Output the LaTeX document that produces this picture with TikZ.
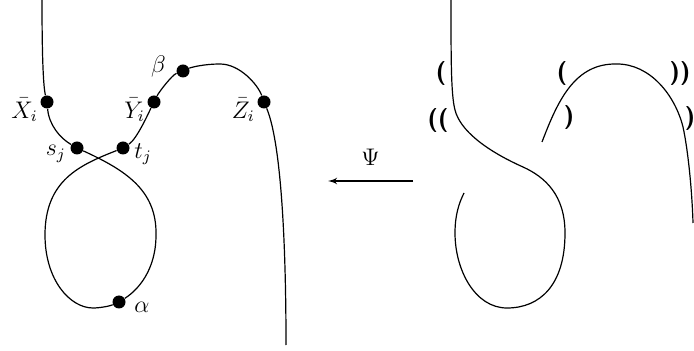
\documentclass[tikz,border=0pt]{standalone}
\usepackage{amsmath}
\usepackage{amssymb}
\usetikzlibrary{arrows,positioning}

\begin{document}
\begin{tikzpicture}[
    x=0.5pt, y=-0.5pt,
    >=latex',
    font=\large,
    dot/.style={
		circle,
		fill=black,
		inner sep=0pt,
		minimum size=6.5pt
	},
	lbl/.style={
		inner sep=0pt
	},
	paren/.style={
		inner sep=0pt,
		font=\large\sffamily\bfseries
	},
	strand/.style={
		semithick
	}
  ]
  \useasboundingbox (0,0) rectangle (694,351);

    % We start by placing the marked points
  \coordinate (ltop) at (42,0);
  \coordinate (lbot) at (286,345);
  \node [dot] (Xbar) at (47,102) {};
  \node [dot] (sj) at (77,148) {};
  \node [dot] (tj) at (123,148) {};
  \node [dot] (Ybar) at (154,102) {};
  \node [dot] (beta) at (183,71) {};
  \node [dot] (Zbar) at (264,102) {};
  \node [dot] (alpha) at (119,302) {};

  \node [lbl, left=1pt of Xbar, yshift=-4pt] (XbarL) {$\bar{X}_i$};
  \node [lbl, left=1pt of Ybar, yshift=-4pt] (YbarL) {$\bar{Y}_i$};
  \node [lbl, left=1pt of Zbar, yshift=-4pt] (ZbarL) {$\bar{Z}_i$};
  \node [lbl, left=2pt of sj, yshift=-3pt] (sjL) {$s_j$};
  \node [lbl, right=2pt of tj, yshift=-3pt] (tjL) {$t_j$};
  \node [lbl, left=5pt of beta, yshift=2pt] (betaL) {$\beta$};
  \node [lbl, right=4pt of alpha, yshift=-2.5pt] (alphaL) {$\alpha$};

  % the curve with its marked points
  \draw [strand] (ltop) .. controls (42,50) and (43,85) .. (Xbar)
    .. controls (49,125) and (60,138) .. (sj)
    .. controls (125,170) and (157,190) .. (156,235)
    .. controls (156,270) and (138,290) .. (alpha)
    .. controls (110,306) and (100,308) .. (93,308)
    .. controls (70,308) and (45,280) .. (45,235)
    .. controls (45,180) and (80,165) .. (tj)
    .. controls (137,139) and (149,112) .. (Ybar)
    .. controls (159,92) and (172,75) .. (beta)
    .. controls (192,67) and (205,64) .. (220,64)
    .. controls (240,64) and (258,85) .. (Zbar)
    .. controls (280,140) and (286,230) .. (lbot);

  % the map
  \coordinate (psiFrom) at (413,181);
  \coordinate (psiTo) at (328,181);
  \draw [semithick, ->] (psiFrom) -- node [above=4pt] (psi) {$\Psi$} (psiTo);

  % the diagram on the right
  \coordinate (rtop) at (451,0);
  \coordinate (rend) at (464,193);
  \coordinate (bstart) at (542,142);
  \coordinate (bend) at (693,223);
  \draw [strand] (rtop) .. controls (451,60) and (451,95) .. (455,110)
    .. controls (460,130) and (485,150) .. (523,167)
    .. controls (545,177) and (565,195) .. (565,233)
    .. controls (565,285) and (540,308) .. (507,308)
    .. controls (475,308) and (455,270) .. (455,233)
    .. controls (455,215) and (459,203) .. (rend);
  \draw [strand] (bstart) .. controls (558,100) and (575,63) .. (617,64)
    .. controls (650,64) and (675,95) .. (683,127)
    .. controls (688,150) and (692,190) .. (bend);

  \node [paren] (br1) at (441,74) {(};
  \node [paren] (br2) at (438,121) {((};
  \node [paren] (br3) at (562,74) {(};
  \node [paren] (br4) at (569,118) {)};
  \node [paren] (br5) at (680,74) {))};
  \node [paren] (br6) at (690,119) {)};

\end{tikzpicture}
\end{document}
